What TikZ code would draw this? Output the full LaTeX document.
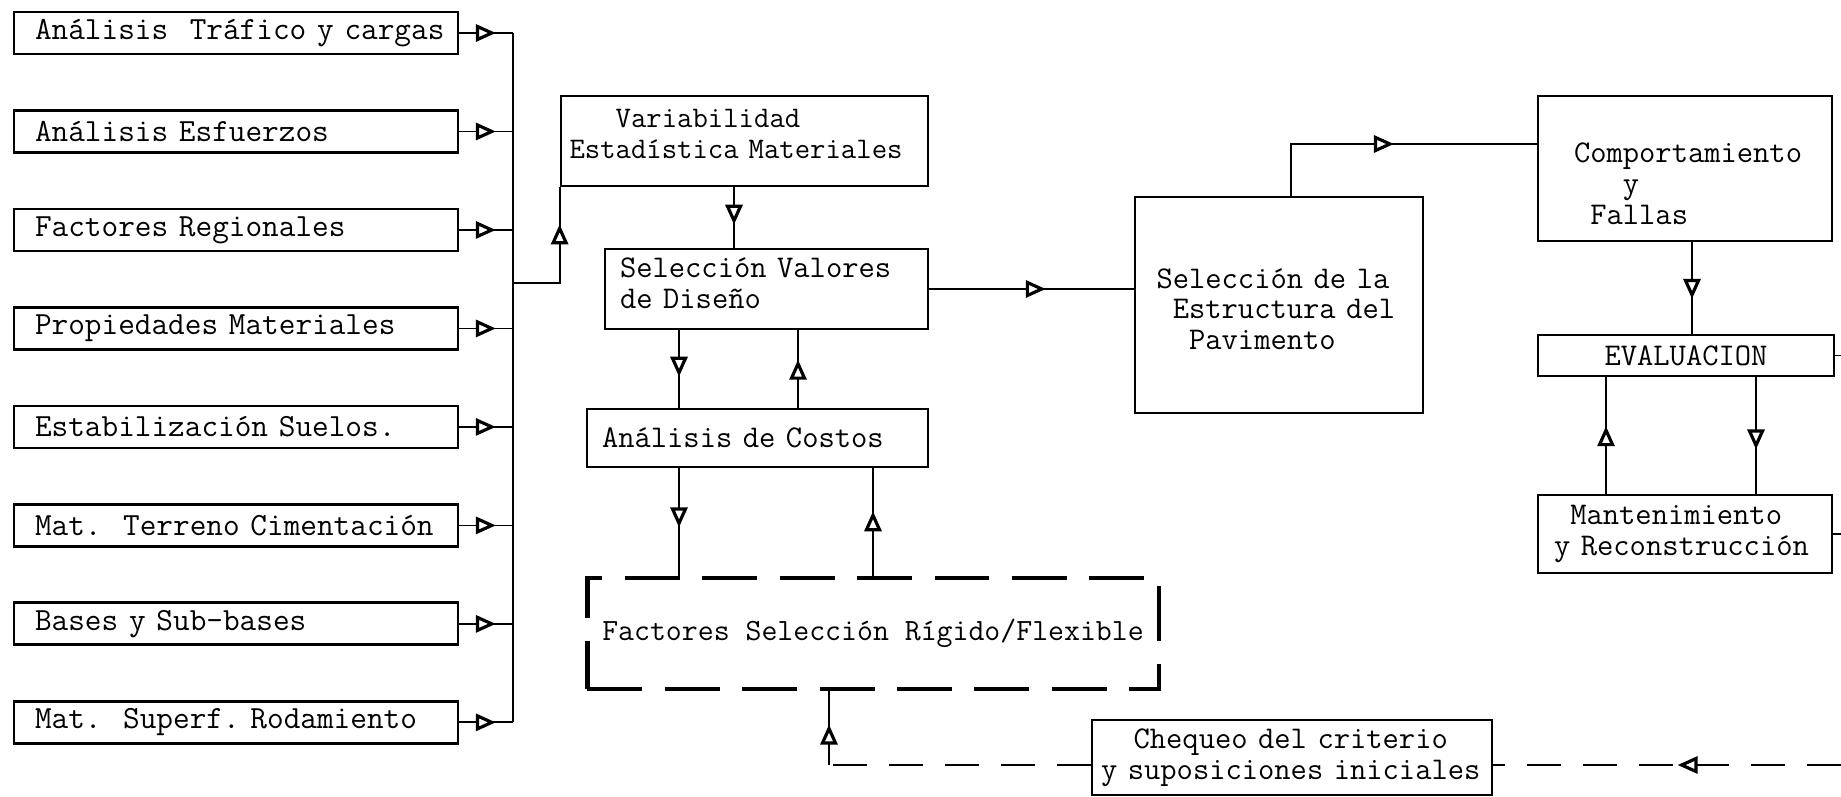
\documentclass[tikz,border=0pt]{standalone}
\usepackage{tikz}
\usetikzlibrary{arrows.meta}
\usetikzlibrary{positioning}
\usetikzlibrary{decorations.markings}

\begin{document}
\begin{tikzpicture}[x=0.02cm,y=-0.02cm,node distance=1.97cm,line width=1pt,
		>={Triangle[fill=white,length=0.4cm,width=0.34cm,line width=1.8pt]},
		main node/.style={draw,line width=1.6pt,align=left,inner ysep=0pt,
			font=\ttfamily\frenchspacing\fontsize{18}{17.5}\selectfont},
		side node/.style={main node,text width=8.64cm,inner xsep=0.12cm,minimum height=0.84cm,
			font=\ttfamily\frenchspacing\fontsize{18.4}{17.5}\selectfont,
			execute at begin node=\hspace*{0.3cm}},
		dash node/.style={main node,align=center,line width=2.8pt,dash pattern=on 1.1cm off 0.45cm,
			font=\ttfamily\frenchspacing\fontsize{17.6}{17.5}\selectfont},
		mid arrow/.style={postaction={decorate},
			decoration={markings,mark=at position #1 with {\arrow{>}}}},
		dash line/.style={dash pattern=on 0.68cm off 0.44cm}]

	\useasboundingbox (0,0) rectangle (1841,797);

	\node[side node] (L1) at (236,33) {Análisis\ \ Tráfico y cargas};
	\node[side node] (L2) [below of=L1] {Análisis Esfuerzos};
	\node[side node] (L3) [below of=L2] {Factores Regionales};
	\node[side node] (L4) [below of=L3] {Propiedades Materiales};
	\node[side node] (L5) [below of=L4] {Estabilización Suelos.};
	\node[side node] (L6) [below of=L5] {Mat.\ \ Terreno Cimentación};
	\node[side node] (L7) [below of=L6] {Bases y Sub-bases};
	\node[side node] (L8) [below of=L7] {Mat.\ \ Superf. Rodamiento};

	\node[main node,text width=7cm,inner xsep=0.17cm,minimum height=1.8cm,text depth=0.9cm,
		font=\ttfamily\frenchspacing\fontsize{17}{17.5}\selectfont] (VE) at (744.5,141)
		{\phantom{xxx}Variabilidad\\Estadística Materiales};
	\node[main node,text width=5.86cm,inner xsep=0.3cm,minimum height=1.6cm,text depth=0.86cm] (SV) at (766.5,289)
		{Selección Valores\\de Diseño};
	\node[main node,text width=6.22cm,inner xsep=0.3cm,minimum height=1.16cm] (AC) at (757.5,438)
		{Análisis de Costos};
	\node[dash node,minimum width=11.44cm,minimum height=2.22cm] (FS) at (873,633.5)
		{Factores Selección Rígido/Flexible};
	\node[main node,text width=4.9cm,inner xsep=0.43cm,minimum height=4.32cm,text height=0.56cm] (SE) at (1279,305)
		{Selección de la\\\phantom{x}Estructura del\\\phantom{xx}Pavimento};
	\node[main node,text width=4.44cm,inner xsep=0.72cm,minimum height=2.9cm,text height=1cm] (CF) at (1685,168.5)
		{Comportamiento\\\phantom{xxx}y\\\phantom{x}Fallas};
	\node[main node,align=center,minimum width=5.92cm,minimum height=0.82cm] (EV) at (1686,355.5)
		{EVALUACION};
	\node[main node,text width=5.24cm,inner xsep=0.32cm,minimum height=1.56cm] (MR) at (1685,534)
		{\phantom{x}Mantenimiento\\y Reconstrucción};
	\node[main node,text width=7.64cm,inner xsep=0.18cm,minimum height=1.5cm] (CH) at (1292,757.5)
		{\phantom{xx}Chequeo del criterio\\y suposiciones iniciales};

	\coordinate (bus) at (513,0);
	\coordinate (br) at (513,283);
	\coordinate (c1) at (734,0);
	\coordinate (c2) at (679,0);
	\coordinate (c3) at (798,0);
	\coordinate (c4) at (873,0);
	\coordinate (cq) at (829,765);
	\coordinate (c6) at (1291,144);
	\coordinate (c7) at (1692,0);
	\coordinate (c8) at (1606,0);
	\coordinate (c9) at (1756,0);
	\coordinate (r) at (1841,0);

	\draw[mid arrow=0.68] (L1.east) -- (L1.east -| bus);
	\draw[mid arrow=0.68] (L2.east) -- (L2.east -| bus);
	\draw[mid arrow=0.68] (L3.east) -- (L3.east -| bus);
	\draw[mid arrow=0.68] (L4.east) -- (L4.east -| bus);
	\draw[mid arrow=0.68] (L5.east) -- (L5.east -| bus);
	\draw[mid arrow=0.68] (L6.east) -- (L6.east -| bus);
	\draw[mid arrow=0.68] (L7.east) -- (L7.east -| bus);
	\draw[mid arrow=0.68] (L8.east) -- (L8.east -| bus);
	\draw (L1.east -| bus) -- (L8.east -| bus);
	\draw[mid arrow=0.74] (br) -| (VE.south west);

	\draw[mid arrow=0.62] (VE.south -| c1) -- (SV.north -| c1);
	\draw[mid arrow=0.6] (SV.south -| c2) -- (AC.north -| c2);
	\draw[mid arrow=0.62] (AC.north -| c3) -- (SV.south -| c3);
	\draw[mid arrow=0.55] (AC.south -| c2) -- (FS.north -| c2);
	\draw[mid arrow=0.6] (FS.north -| c4) -- (AC.south -| c4);
	\draw[mid arrow=0.57] (SV.east) -- (SV.east -| SE.west);
	\draw[mid arrow=0.55] (cq) -- (FS.south -| cq);
	\draw[dash line] (CH.west |- cq) -- (cq);
	\draw[dash line,mid arrow=0.47] (cq -| r) -- (CH.east |- cq);

	\draw[mid arrow=0.52] (SE.north -| c6) |- (CF.west |- c6);
	\draw[mid arrow=0.62] (CF.south -| c7) -- (EV.north -| c7);
	\draw[mid arrow=0.58] (MR.north -| c8) -- (EV.south -| c8);
	\draw[mid arrow=0.62] (EV.south -| c9) -- (MR.north -| c9);
	\draw (EV.east) -- (EV.east -| r);
	\draw (MR.east) -- (MR.east -| r);

\end{tikzpicture}
\end{document}
